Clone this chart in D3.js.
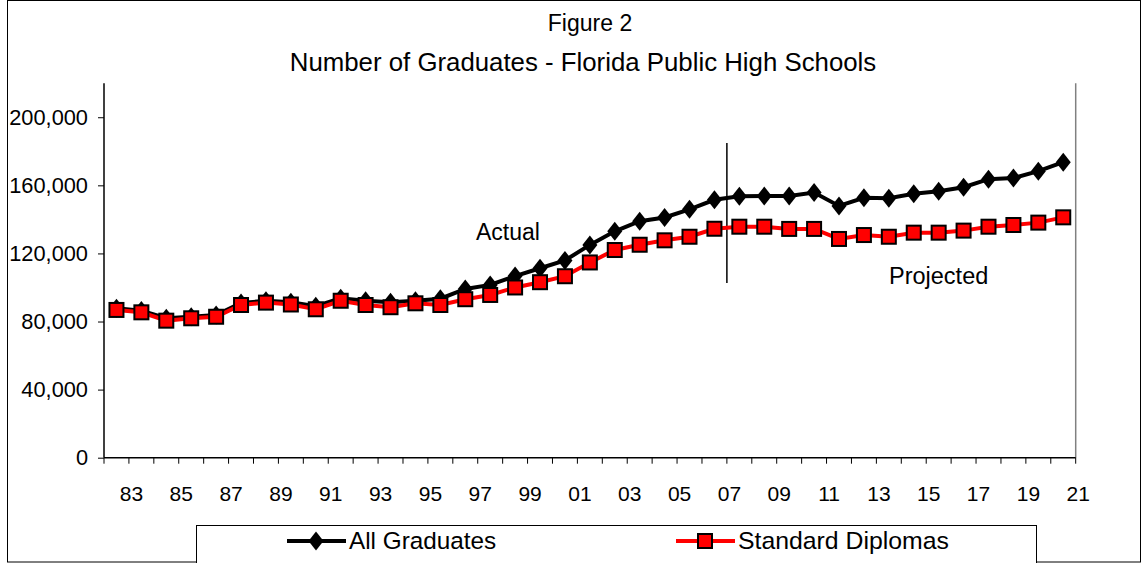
<!DOCTYPE html>
<html>
<head>
<meta charset="utf-8">
<script src="https://cdn.jsdelivr.net/npm/d3@7"></script>
<style>
  html, body { margin: 0; padding: 0; background: #fff; }
  svg { display: block; }
  text { font-family: Arial, "Liberation Sans", sans-serif; fill: #000; }
</style>
</head>
<body>
<svg id="chart" width="1143" height="563"></svg>
<script>
// ---- data ----
const categories = ["83","84","85","86","87","88","89","90","91","92","93","94","95","96","97","98","99","00",
  "01","02","03","04","05","06","07","08","09","10","11","12","13","14","15","16","17","18","19","20","21"];
const tickLabels = ["83","85","87","89","91","93","95","97","99","01","03","05","07","09","11","13","15","17","19","21"];
const allGraduates = [87800, 86400, 81900, 82800, 83800, 90900, 92200, 91300, 89000, 93600, 92200, 91300, 92200, 93400,
  99100, 101500, 106700, 111300, 115900, 125000, 133000, 138900, 141100, 145900, 151500, 153600, 153700, 153700,
  155800, 147900, 152700, 152400, 155100, 156500, 158900, 163600, 164300, 168300, 173600];
const standardDiplomas = [86800, 85400, 80500, 81900, 82800, 89700, 91100, 90000, 87200, 92200, 89700, 88400, 90700, 89700,
  93100, 95600, 100000, 103100, 106600, 114700, 122000, 125100, 127700, 129800, 134500, 135700, 135700, 134400,
  134400, 128500, 130800, 129800, 132200, 132200, 133400, 135700, 136700, 138100, 141200];
const yTicks = [0, 40000, 80000, 120000, 160000, 200000];
const seriesNames = ["All Graduates", "Standard Diplomas"];
const titleLines = ["Figure 2", "Number of Graduates - Florida Public High Schools"];
const actualSplit = "07"; // last actual category
const annotations = ["Actual", "Projected"];

// ---- layout ----
const svg = d3.select("#chart");
const L = 104, R = 1075.7, B = 457.7;
const x = d3.scaleBand().domain(categories).range([L, R]).padding(0);
const y = d3.scaleLinear().domain([0, 220000]).range([B, 83.2]);
const bw = x.bandwidth();
const cx = d => x(d) + bw / 2;

// outer border
svg.append("rect").attr("x", 7.5).attr("y", 0.5).attr("width", 1133).attr("height", 561.5)
  .attr("fill", "none").attr("stroke", "#000").attr("stroke-width", 1);

// titles
svg.append("text").attr("x", 590).attr("y", 31).attr("text-anchor", "middle")
  .style("font-size", "23px").text(titleLines[0]);
svg.append("text").attr("x", 583).attr("y", 71).attr("text-anchor", "middle")
  .style("font-size", "25.8px").text(titleLines[1]);

// plot area right border
svg.append("line").attr("x1", R).attr("x2", R).attr("y1", y(220000)).attr("y2", B)
  .attr("stroke", "#808080").attr("stroke-width", 1.5);

// y axis
const yAxis = svg.append("g").attr("transform", `translate(${L},0)`)
  .call(d3.axisLeft(y).tickValues(yTicks).tickFormat(d3.format(",")).tickSize(6).tickPadding(10));
yAxis.select(".domain").attr("stroke", "#000").attr("stroke-width", 1.5).attr("d", `M0,${y(220000)}V${B}`);
yAxis.selectAll(".tick line").attr("stroke", "#000");
yAxis.selectAll(".tick text").style("font-size", "21.8px").style("font-family", "Arial, 'Liberation Sans', sans-serif");

// x axis: line, boundary ticks, labels
svg.append("line").attr("x1", L).attr("x2", R).attr("y1", B).attr("y2", B)
  .attr("stroke", "#000").attr("stroke-width", 1.5);
const bounds = categories.map(c => x(c)).concat([R]);
svg.append("g").selectAll("line").data(bounds).join("line")
  .attr("x1", d => d).attr("x2", d => d).attr("y1", B).attr("y2", B + 6)
  .attr("stroke", "#000").attr("stroke-width", 1);
const xAxis = svg.append("g").attr("transform", `translate(${bw / 2 + 2.5},${B})`)
  .call(d3.axisBottom(x).tickValues(tickLabels).tickSize(0).tickPadding(28));
xAxis.select(".domain").remove();
xAxis.selectAll(".tick text").style("font-size", "21px").style("font-family", "Arial, 'Liberation Sans', sans-serif");

// vertical split line
const splitX = x(actualSplit) + bw;
svg.append("line").attr("x1", splitX).attr("x2", splitX).attr("y1", 143).attr("y2", 283)
  .attr("stroke", "#000").attr("stroke-width", 1.5);

// annotations
svg.append("text").attr("x", 476).attr("y", 240).style("font-size", "23px").text(annotations[0]);
svg.append("text").attr("x", 889).attr("y", 284).style("font-size", "23.5px").text(annotations[1]);

// series
const line = d3.line().x((d, i) => cx(categories[i])).y(d => y(d));
const diamond = (px, py) => `M${px},${py - 9.5}L${px + 7.5},${py}L${px},${py + 9.5}L${px - 7.5},${py}Z`;

svg.append("path").datum(allGraduates).attr("d", line)
  .attr("fill", "none").attr("stroke", "#000").attr("stroke-width", 4);
svg.append("g").selectAll("path").data(allGraduates).join("path")
  .attr("d", (d, i) => diamond(cx(categories[i]), y(d))).attr("fill", "#000");

svg.append("path").datum(standardDiplomas).attr("d", line)
  .attr("fill", "none").attr("stroke", "#ff0000").attr("stroke-width", 4);
svg.append("g").selectAll("rect").data(standardDiplomas).join("rect")
  .attr("x", (d, i) => cx(categories[i]) - 7).attr("y", d => y(d) - 7)
  .attr("width", 14).attr("height", 14)
  .attr("fill", "#ff0000").attr("stroke", "#000").attr("stroke-width", 2);

// legend
svg.append("rect").attr("x", 196.5).attr("y", 525.5).attr("width", 840).attr("height", 40)
  .attr("fill", "#fff").attr("stroke", "#000").attr("stroke-width", 1);
const ly = 541;
// entry 1
svg.append("line").attr("x1", 287).attr("x2", 346).attr("y1", ly).attr("y2", ly)
  .attr("stroke", "#000").attr("stroke-width", 4);
svg.append("path").attr("d", diamond(316, ly)).attr("fill", "#000");
svg.append("text").attr("x", 349).attr("y", ly + 8).style("font-size", "24.3px").text(seriesNames[0]);
// entry 2
svg.append("line").attr("x1", 676).attr("x2", 735).attr("y1", ly).attr("y2", ly)
  .attr("stroke", "#ff0000").attr("stroke-width", 4);
svg.append("rect").attr("x", 698).attr("y", ly - 7).attr("width", 14).attr("height", 14)
  .attr("fill", "#ff0000").attr("stroke", "#000").attr("stroke-width", 2);
svg.append("text").attr("x", 738).attr("y", ly + 8).style("font-size", "24.8px").text(seriesNames[1]);
</script>
</body>
</html>
